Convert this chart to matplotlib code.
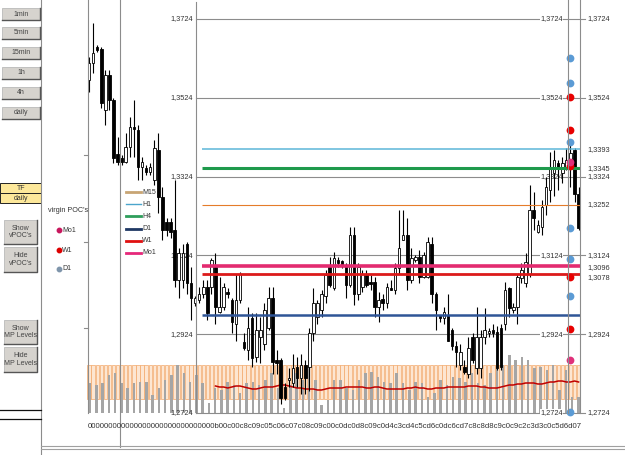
import matplotlib
matplotlib.use("Agg")
import matplotlib.pyplot as plt
from matplotlib import transforms
from matplotlib.lines import Line2D
from matplotlib.patches import Rectangle

plt.rcParams['font.family'] = ['Liberation Sans', 'DejaVu Sans']

W, H = 625, 455

# ---- candles (daily) ----
opens = [1.3569, 1.3612, 1.3652, 1.3647, 1.3493, 1.3581, 1.3518, 1.3381, 1.3371, 1.3361,
         1.3398, 1.3449, 1.3442, 1.3348, 1.3346, 1.3335, 1.3315, 1.3391, 1.3271, 1.3208,
         1.3208, 1.3188, 1.3061, 1.3061, 1.3154, 1.3053, 1.3002, 1.3010, 1.3027, 1.3043,
         1.3043, 1.3094, 1.2980, 1.2992, 1.3030, 1.3010, 1.2951, 1.3010, 1.2903, 1.2883,
         1.2965, 1.2865, 1.2916, 1.2900, 1.2941, 1.3015, 1.2858, 1.2858, 1.2789, 1.2807,
         1.2799, 1.2840, 1.2814, 1.2845, 1.2840, 1.2926, 1.2967, 1.2985, 1.3022, 1.3099,
         1.3041, 1.3112, 1.3109, 1.3099, 1.3048, 1.3175, 1.3027, 1.3043, 1.3078, 1.3056,
         1.3056, 1.2992, 1.3013, 1.3002, 1.3041, 1.3035, 1.3091, 1.3162, 1.3175, 1.3061,
         1.3112, 1.3119, 1.3068, 1.3068, 1.3154, 1.3027, 1.2972, 1.2965, 1.2972, 1.2934,
         1.2895, 1.2845, 1.2840, 1.2824, 1.2916, 1.2838, 1.2838, 1.2916, 1.2926, 1.2934,
         1.2929, 1.2941, 1.2951, 1.3041, 1.2985, 1.2992, 1.3066, 1.3053, 1.3078, 1.3239,
         1.3183, 1.3195, 1.3251, 1.3289, 1.3332, 1.3358, 1.3332, 1.3348, 1.3348, 1.3391,
         1.3281]
highs = [1.3627, 1.3713, 1.3658, 1.3652, 1.3594, 1.3594, 1.3523, 1.3424, 1.3379, 1.3434,
         1.3475, 1.3518, 1.3454, 1.3373, 1.3353, 1.3358, 1.3416, 1.3434, 1.3297, 1.3219,
         1.3219, 1.3315, 1.3144, 1.3154, 1.3157, 1.3094, 1.3022, 1.3043, 1.3061, 1.3061,
         1.3117, 1.3129, 1.3068, 1.3053, 1.3041, 1.3017, 1.3078, 1.3081, 1.2926, 1.2992,
         1.2977, 1.2977, 1.2967, 1.3002, 1.3043, 1.3043, 1.2883, 1.2863, 1.2799, 1.2838,
         1.2875, 1.2865, 1.2875, 1.2858, 1.2941, 1.3041, 1.3010, 1.3035, 1.3086, 1.3119,
         1.3132, 1.3119, 1.3112, 1.3104, 1.3195, 1.3195, 1.3104, 1.3086, 1.3086, 1.3073,
         1.3068, 1.3030, 1.3027, 1.3053, 1.3061, 1.3104, 1.3239, 1.3239, 1.3219, 1.3142,
         1.3124, 1.3137, 1.3132, 1.3170, 1.3170, 1.3030, 1.2972, 1.2992, 1.3027, 1.2941,
         1.2908, 1.2900, 1.2858, 1.2916, 1.2926, 1.2992, 1.2934, 1.2990, 1.2941, 1.2951,
         1.2946, 1.2951, 1.3056, 1.3043, 1.3002, 1.3078, 1.3104, 1.3129, 1.3302, 1.3284,
         1.3213, 1.3264, 1.3322, 1.3386, 1.3391, 1.3366, 1.3373, 1.3396, 1.3408, 1.3396,
         1.3297]
lows = [1.3538, 1.3586, 1.3640, 1.3498, 1.3454, 1.3493, 1.3358, 1.3353, 1.3353, 1.3358,
        1.3373, 1.3373, 1.3315, 1.3315, 1.3327, 1.3327, 1.3302, 1.3231, 1.3162, 1.3173,
        1.3168, 1.3043, 1.3015, 1.3041, 1.3027, 1.2959, 1.2995, 1.3002, 1.3017, 1.2959,
        1.3027, 1.2951, 1.2977, 1.2985, 1.3015, 1.2926, 1.2908, 1.3002, 1.2883, 1.2858,
        1.2840, 1.2853, 1.2850, 1.2883, 1.2934, 1.2824, 1.2824, 1.2748, 1.2756, 1.2789,
        1.2789, 1.2789, 1.2773, 1.2773, 1.2781, 1.2908, 1.2951, 1.2967, 1.3002, 1.3043,
        1.3035, 1.3094, 1.3091, 1.3017, 1.3043, 1.2997, 1.3010, 1.3030, 1.3043, 1.3035,
        1.2967, 1.2954, 1.2985, 1.2990, 1.3035, 1.3027, 1.3078, 1.3162, 1.3035, 1.3053,
        1.3107, 1.3053, 1.3066, 1.3066, 1.3002, 1.2934, 1.2954, 1.2951, 1.2908, 1.2883,
        1.2840, 1.2832, 1.2824, 1.2814, 1.2850, 1.2824, 1.2812, 1.2900, 1.2916, 1.2916,
        1.2832, 1.2832, 1.2934, 1.2967, 1.2977, 1.2951, 1.3053, 1.3043, 1.3068, 1.3188,
        1.3180, 1.3175, 1.3226, 1.3259, 1.3276, 1.3289, 1.3307, 1.3340, 1.3297, 1.3259,
        1.3188]
closes = [1.3612, 1.3637, 1.3645, 1.3510, 1.3581, 1.3518, 1.3371, 1.3361, 1.3361, 1.3398,
          1.3449, 1.3444, 1.3348, 1.3361, 1.3335, 1.3348, 1.3396, 1.3271, 1.3188, 1.3188,
          1.3183, 1.3061, 1.3129, 1.3129, 1.3053, 1.3015, 1.3015, 1.3027, 1.3043, 1.2977,
          1.3112, 1.2992, 1.2992, 1.3043, 1.3025, 1.2954, 1.3010, 1.3078, 1.2888, 1.2939,
          1.2863, 1.2934, 1.2934, 1.2985, 1.3015, 1.2853, 1.2850, 1.2763, 1.2763, 1.2814,
          1.2838, 1.2814, 1.2845, 1.2814, 1.2926, 1.3002, 1.3002, 1.3027, 1.3073, 1.3048,
          1.3117, 1.3104, 1.3099, 1.3048, 1.3175, 1.3027, 1.3094, 1.3078, 1.3048, 1.3051,
          1.2992, 1.3010, 1.3002, 1.3043, 1.3035, 1.3091, 1.3142, 1.3175, 1.3061, 1.3117,
          1.3119, 1.3068, 1.3124, 1.3157, 1.3027, 1.2985, 1.2965, 1.2980, 1.2908, 1.2895,
          1.2878, 1.2878, 1.2827, 1.2888, 1.2858, 1.2916, 1.2916, 1.2934, 1.2931, 1.2926,
          1.2838, 1.2840, 1.3035, 1.2990, 1.2992, 1.3068, 1.3086, 1.3107, 1.3239, 1.3219,
          1.3200, 1.3246, 1.3297, 1.3348, 1.3366, 1.3346, 1.3358, 1.3366, 1.3383, 1.3281,
          1.3193]

# ---- volume (tick counts, arbitrary units) ----
volume = [30, 28, 30, 38, 40, 30, 25, 30, 31, 31, 18, 25, 33, 38, 48, 40, 31, 38, 30, 10,
          25, 23, 31, 28, 20, 30, 31, 28, 33, 40, 25, 5, 28, 40, 33, 53, 33, 8, 13, 33,
          33, 25, 23, 33, 40, 41, 36, 31, 30, 40, 30, 23, 31, 30, 16, 20, 33, 28, 36, 35,
          31, 40, 30, 28, 40, 53, 48, 58, 53, 56, 53, 45, 46, 43, 48, 23, 43, 16, 16]
band_top = 48
band_bottom = 14
ma_start = 31
volume_ma = [27, 26, 26, 25, 26, 27, 27, 26, 25, 24, 24, 25, 26, 26, 26, 27, 28, 28, 27, 26,
             25, 25, 24, 24, 24, 23, 23, 24, 25, 25, 25, 25, 26, 26, 26, 26, 26, 25, 25, 26,
             26, 25, 24, 24, 24, 24, 24, 25, 25, 26, 25, 25, 24, 24, 25, 25, 25, 26, 26, 26,
             26, 26, 27, 27, 27, 26, 26, 25, 25, 25, 26, 27, 28, 28, 29, 29, 30, 30, 30, 29,
             29, 30, 31, 31, 32, 32, 31, 31, 32, 31]

# ---- price grid ----
grid_levels = [1.3724, 1.3524, 1.3324, 1.3124, 1.2924, 1.2724]

# ---- market profile levels ----
level_names = ['H1', 'H4', 'M15', 'Mo1', 'W1', 'D1']
level_values = [1.3393, 1.3345, 1.3252, 1.3096, 1.3078, 1.2973]
level_colors = ['#5cb6d8', '#1e9a4c', '#e57c2a', '#e32b70', '#dc1a1a', '#2f5597']
level_widths = [1.1, 2.2, 0.8, 2.6, 2.0, 1.8]
level_labelled = [True, True, True, True, True, False]

# ---- virgin POCs ----
poc_d1 = [1.3625, 1.3561, 1.3411, 1.3193, 1.3114, 1.3020, 1.2726]
poc_w1 = [1.3525, 1.3442, 1.3351, 1.3068, 1.2936]
poc_mo1 = [1.3361, 1.2858]

legend_names = ['M15', 'H1', 'H4', 'D1', 'W1', 'Mo1']
legend_colors = ['#c8a574', '#4ba5cc', '#2e9e5b', '#1f3864', '#e01010', '#e6287a']

# ---- layout (pixels) ----
X0, DX = 89, 4.08            # first candle, candle step
VX0, VDX = 90, 6.26          # first volume bar, bar step
Y_REF, PX_PER_UNIT = 19, 3940  # y of 1.3724, pixels per price unit
BASE_Y = 413                 # volume baseline


def fx(px):
    return px / W


def fy(py):
    return 1 - py / H


def fmt(v):
    return f'{v:.4f}'.replace('.', ',')


fig = plt.figure(figsize=(W / 100, H / 100), dpi=100)

idx_lim = (-X0 / DX, (W - X0) / DX)
vol_lim = (-(H - BASE_Y), BASE_Y)


def layer(xlim, ylim):
    a = fig.add_axes([0, 0, 1, 1])
    a.set_xlim(*xlim)
    a.set_ylim(*ylim)
    a.axis('off')
    a.patch.set_alpha(0)
    return a


n = len(opens)
idx = list(range(n))

# orange band
ax_band = layer(idx_lim, vol_lim)
ax_band.bar(idx, [band_top - band_bottom] * n, bottom=band_bottom, width=0.8,
            color='#fde6d2', edgecolor='#f2a86a', linewidth=0.5)

# volume bars
ax_vol = layer((-VX0 / VDX, (W - VX0) / VDX), vol_lim)
ax_vol.bar(range(len(volume)), volume, width=0.4, color='#a5a5a5', linewidth=0)

# volume average
ax_ma = layer(idx_lim, vol_lim)
ax_ma.plot(range(ma_start, ma_start + len(volume_ma)), volume_ma, color='#c00000', lw=1.1)

# main price layer
ax = layer(idx_lim, (1.3724 - (H - Y_REF) / PX_PER_UNIT, 1.3724 + Y_REF / PX_PER_UNIT))
bt = transforms.blended_transform_factory(fig.transFigure, ax.transData)

for lv in grid_levels:
    ax.plot([fx(196), fx(585)], [lv, lv], color='#8c8c8c', lw=0.8, transform=bt, zorder=1)
    ax.text(fx(193), lv, fmt(lv), transform=bt, ha='right', va='center', fontsize=5.3,
            color='#333333', zorder=2)
    ax.text(fx(563), lv, fmt(lv), transform=bt, ha='right', va='center', fontsize=5.3,
            color='#333333', zorder=2,
            bbox=dict(facecolor='white', edgecolor='none', pad=0.2))
    ax.text(fx(587), lv, fmt(lv), transform=bt, ha='left', va='center', fontsize=5.3,
            color='#333333', zorder=2)

# candles
for i in idx:
    o, hi, lo, c = opens[i], highs[i], lows[i], closes[i]
    ax.vlines(i, lo, hi, color='black', lw=0.8, zorder=5)
    body = max(abs(c - o), 0.00012)
    up = c >= o
    ax.bar(i, body, bottom=min(o, c), width=0.62,
           color='white' if up else 'black', edgecolor='black', linewidth=0.6, zorder=6)

# levels
lab_off = {'Mo1': -0.5, 'W1': -3.0, 'H4': -0.5}
for name, v, col, lw, lab in zip(level_names, level_values, level_colors, level_widths,
                                 level_labelled):
    ax.hlines(v, 27.6, 120.3, color=col, lw=lw, zorder=7)
    if lab:
        ax.annotate(fmt(v), (fx(587), v), xycoords=bt, xytext=(0, lab_off.get(name, 0)),
                    textcoords='offset points', ha='left', va='center', fontsize=5.3,
                    color='#333333')

# virgin POC dots
poc_x = 118.0
ax.plot([poc_x] * len(poc_d1), poc_d1, 'o', ms=5.6, color='#5b9bd5', mec='none', zorder=9)
ax.plot([poc_x] * len(poc_w1), poc_w1, 'o', ms=5.6, color='#e80000', mec='none', zorder=9)
ax.plot([poc_x] * len(poc_mo1), poc_mo1, 'o', ms=5.6, color='#e0307a', mec='none', zorder=9)

# ---- frame lines ----
vlines = [(41, 0, 455), (88, 0, 413), (120, 0, 447), (196, 2, 413), (568, 0, 413), (580, 0, 413)]
for x, y0, y1 in vlines:
    fig.add_artist(Line2D([fx(x), fx(x)], [fy(y0), fy(y1)], color='#8c8c8c', lw=0.8))
for y in (446, 449):
    fig.add_artist(Line2D([fx(41), fx(625)], [fy(y), fy(y)], color='#a0a0a0', lw=0.8))
for y in (155, 242, 328):
    fig.add_artist(Line2D([fx(84), fx(88)], [fy(y), fy(y)], color='#8c8c8c', lw=0.8))

# overlapping date labels along the bottom
x_text = ('0' * 30 + 'b00c00c8c09c05c06c07c08c09c00c0dc0d8c09c0d4c3cd4c5cd6c0dc6cd7c8'
          'c8d8c9c0c9c2c3d3c0c5d6d07')
fig.text(fx(88), fy(427), x_text, fontsize=5.6, color='#333333', va='center', ha='left')

# ---- left control panel ----
buttons = [('1min', 2, 8, 40, 20), ('5min', 2, 27, 40, 39), ('15min', 2, 47, 40, 59),
           ('1h', 2, 67, 40, 79), ('4h', 2, 87, 40, 99), ('daily', 2, 107, 40, 119),
           ("Show\nvPOC's", 4, 220, 37, 244), ("Hide\nvPOC's", 4, 247, 37, 272),
           ('Show\nMP Levels', 4, 320, 37, 344), ('Hide\nMP Levels', 4, 347, 37, 372)]
for label, x0, y0, x1, y1 in buttons:
    fig.add_artist(Rectangle((fx(x0), fy(y1)), fx(x1 - x0), (y1 - y0) / H,
                             transform=fig.transFigure, facecolor='#d6d3ce',
                             edgecolor='#b0b0b0', lw=0.5))
    fig.add_artist(Line2D([fx(x0), fx(x1), fx(x1)], [fy(y1), fy(y1), fy(y0)],
                          color='#555555', lw=1.0))
    fig.text(fx((x0 + x1) / 2), fy((y0 + y1) / 2), label, ha='center', va='center',
             fontsize=5.0, color='#444444', linespacing=1.1)

for label, y0, y1 in [('TF', 183, 193), ('daily', 193, 203)]:
    fig.add_artist(Rectangle((0, fy(y1)), fx(41), (y1 - y0) / H, transform=fig.transFigure,
                             facecolor='#fde89a', edgecolor='#222222', lw=0.7))
    fig.text(fx(21), fy((y0 + y1) / 2), label, ha='center', va='center', fontsize=5.0,
             color='#333333')

for y in (410, 419):
    fig.add_artist(Line2D([0, fx(41)], [fy(y), fy(y)], color='#111111', lw=0.9))

# virgin POC legend
fig.text(fx(48), fy(210), "virgin POC's", fontsize=5.2, color='#333333', va='center')
for name, col, y in [('Mo1', '#c8185e', 230), ('W1', '#dd0000', 250), ('D1', '#7f95ab', 269)]:
    fig.add_artist(Line2D([fx(59)], [fy(y)], marker='o', ms=3.2, color=col, lw=0))
    fig.text(fx(62), fy(y), name, fontsize=5.0, color='#333333', va='center')

# level legend
for k, (name, col) in enumerate(zip(legend_names, legend_colors)):
    y = 192 + 12.2 * k
    fig.add_artist(Line2D([fx(126), fx(141)], [fy(y), fy(y)], color=col,
                          lw=1.0 if name == 'H1' else 2.0))
    fig.text(fx(142), fy(y), name, fontsize=5.0, color='#333333', va='center')

fig.savefig('out.png', dpi=100)
